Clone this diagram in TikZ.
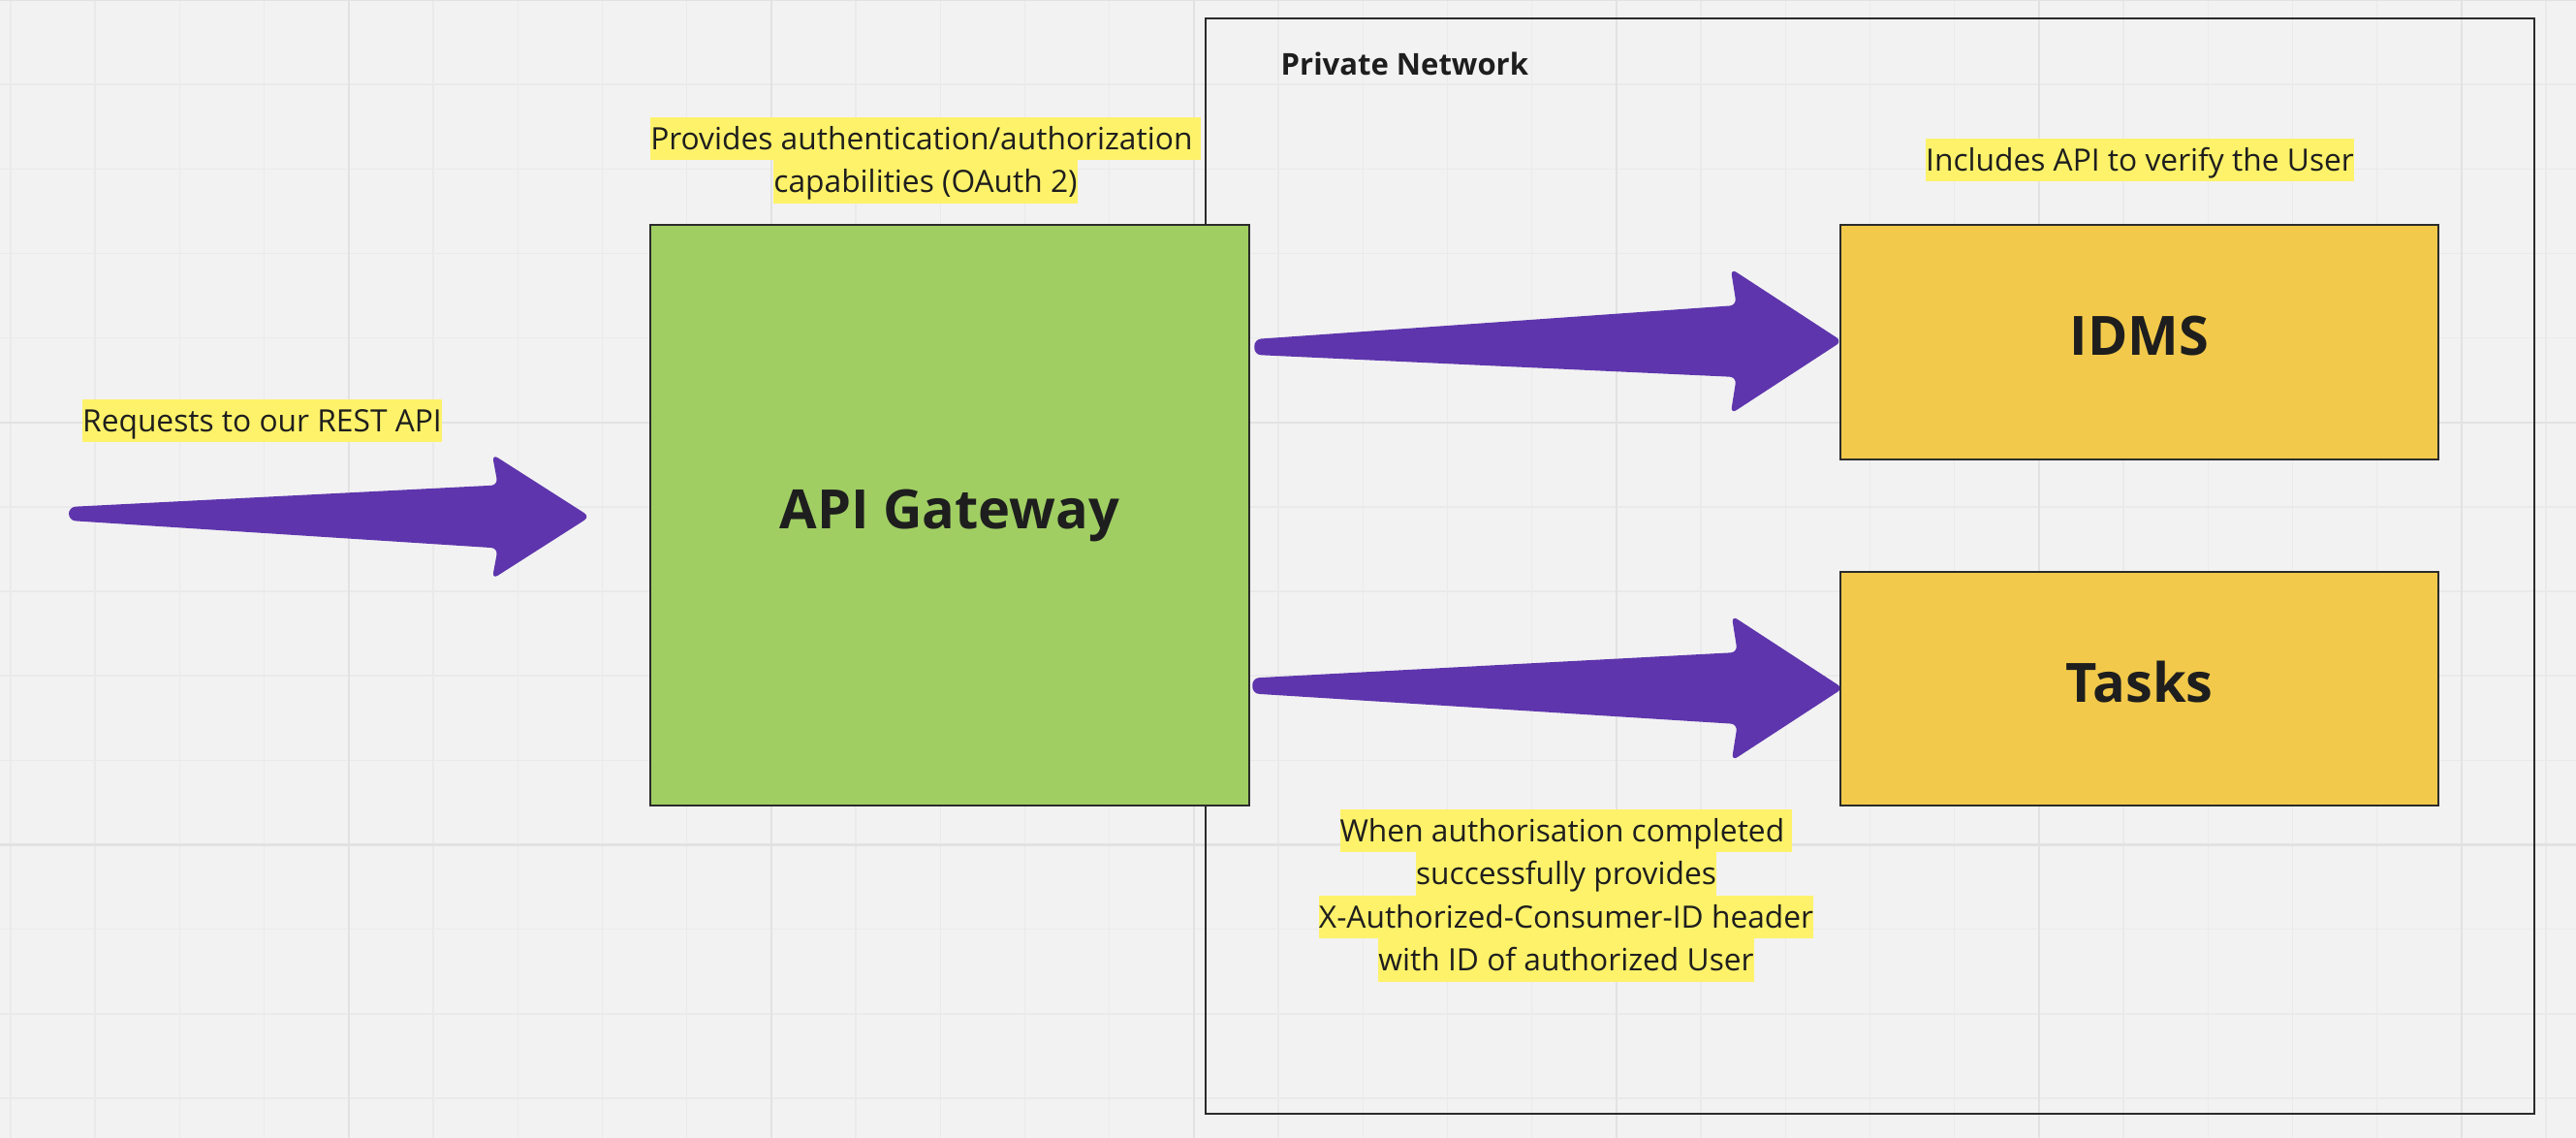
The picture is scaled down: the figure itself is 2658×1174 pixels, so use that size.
\documentclass[tikz,border=0pt]{standalone}
\usepackage{fontspec}
\setmainfont{Open Sans}
\usetikzlibrary{calc}
\definecolor{bgc}{HTML}{F2F2F2}
\definecolor{gridminor}{HTML}{EAEAEA}
\definecolor{gridmajor}{HTML}{E2E2E2}
\definecolor{gwgreen}{HTML}{A0CE63}
\definecolor{boxyellow}{HTML}{F2C94A}
\definecolor{hly}{HTML}{FEF26A}
\definecolor{arrowc}{HTML}{5E35AD}
\definecolor{inkc}{HTML}{1E1E1E}
\definecolor{linec}{HTML}{2B2B2B}
\setlength{\fboxsep}{0pt}
\newcommand\hlbox[1]{\colorbox{hly}{\rule[-0.11cm]{0pt}{0.445cm}#1}}
\newcommand\blockarr[6]{%
  \fill[arrowfill]
  ($(#1)+(0,-#3)$) -- ($(#2)+(-#6,-#4)$) -- ($(#2)+(-#6-6,-#5)$) -- (#2)
  -- ($(#2)+(-#6-6,#5)$) -- ($(#2)+(-#6,#4)$) -- ($(#1)+(0,#3)$) -- cycle;}
\begin{document}
\begin{tikzpicture}[x=0.01cm,y=-0.01cm,
  gridline/.style={draw=gridminor,line width=0.4pt},
  gridbold/.style={draw=gridmajor,line width=0.65pt},
  boxnode/.style={draw=linec,line width=0.6pt,inner sep=0pt,text=inkc,
    font=\bfseries\fontsize{15.9pt}{19pt}\selectfont,text height=0.43cm,text depth=0.15cm},
  netbox/.style={draw=linec,line width=0.6pt,inner sep=0pt,minimum width=13.71cm,minimum height=11.30cm},
  note/.style={inner sep=0pt,anchor=north,align=center,text=inkc,
    font=\fontsize{9.02pt}{0.445cm}\selectfont},
  arrowfill/.style={fill=arrowc,rounded corners=0.07cm}]
\useasboundingbox (0,0) rectangle (2658,1174);
\fill[bgc] (0,0) rectangle (2658,1174);
% grid
\foreach \k in {0,...,30}{\pgfmathsetmacro\gx{11+87.2*\k}
  \draw[gridline] (\gx,0) -- (\gx,1174);}
\foreach \k in {0,...,13}{\pgfmathsetmacro\gy{87.15*\k}
  \draw[gridline] (0,\gy) -- (2658,\gy);}
\foreach \k in {4,9,14,19,24,29}{\pgfmathsetmacro\gx{11+87.2*\k}
  \draw[gridbold] (\gx,0) -- (\gx,1174);}
\foreach \k in {0,5,10}{\pgfmathsetmacro\gy{87.15*\k}
  \draw[gridbold] (0,\gy) -- (2658,\gy);}
% private network
\node[netbox] (pn) at (1929.5,584) {};
\node[anchor=base west,inner sep=0pt,text=inkc,font=\bfseries\fontsize{8.82pt}{10pt}\selectfont] (pnlabel) at (1321,78) {Private Network};
% boxes
\node[boxnode,fill=gwgreen,minimum width=6.18cm,minimum height=5.99cm] (gw) at (980,531.5) {API Gateway};
\node[boxnode,fill=boxyellow,minimum width=6.17cm,minimum height=2.42cm] (idms) at (2207.5,353) {IDMS};
\node[boxnode,fill=boxyellow,minimum width=6.17cm,minimum height=2.41cm] (tasks) at (2207.5,710.5) {Tasks};
% notes
\node[note] (n1) at (270.5,411) {\hlbox{Requests to our REST API}};
\node[note] (n2) at (955,120) {\hlbox{Provides authentication/authorization }\\\hlbox{capabilities (OAuth 2)}};
\node[note] (n3) at (2208,142) {\hlbox{Includes API to verify the User}};
\node[note] (n4) at (1616,834) {\hlbox{When authorisation completed }\\\hlbox{successfully provides}\\\hlbox{X-Authorized-Consumer-ID header}\\\hlbox{with ID of authorized User}};
% arrows
\coordinate (src) at (71,530);
\coordinate (a0tip) at ($(gw.west)+(-61,1.5)$);
\coordinate (a1tail) at ($(gw.east)+(4,-173.5)$);
\coordinate (a1tip) at ($(idms.west)+(3,-1)$);
\coordinate (a2tail) at ($(gw.east)+(2,176)$);
\coordinate (a2tip) at ($(tasks.west)+(4,-0.5)$);
\blockarr{src}{a0tip}{7}{32.5}{64.5}{95}
\blockarr{a1tail}{a1tip}{8}{37}{75}{109}
\blockarr{a2tail}{a2tip}{8}{37}{75}{109}
\end{tikzpicture}
\end{document}
